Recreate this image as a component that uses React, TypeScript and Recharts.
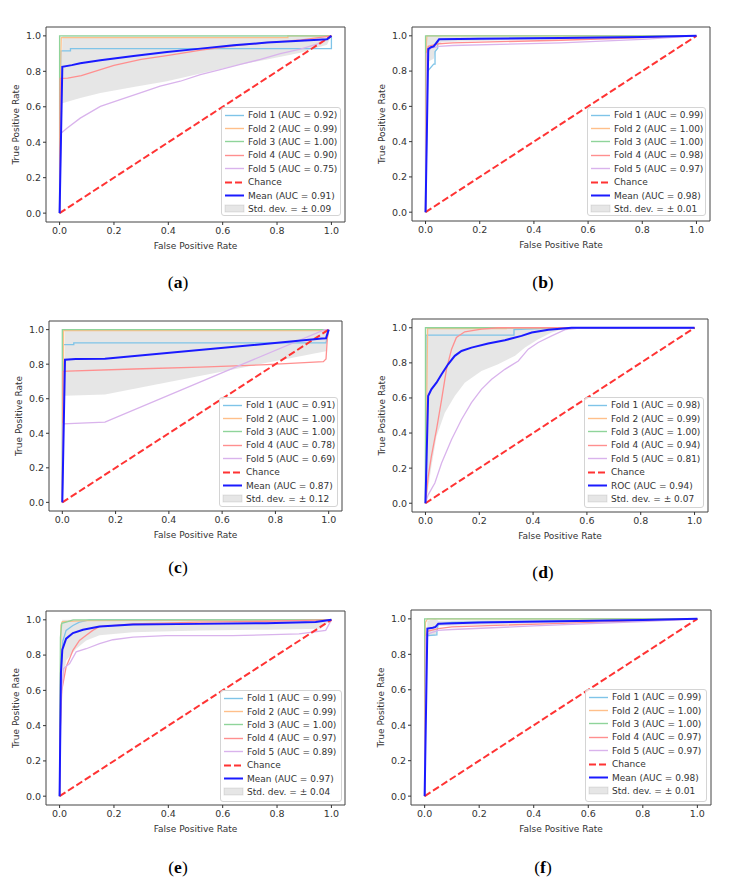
import React from 'react';
import { ComposedChart, Line, Area, XAxis, YAxis, ReferenceArea } from 'recharts';

type Pt = [number, number];
type BandPt = [number, number, number];

// tick values shared by every panel
const TICKS = [0, 0.2, 0.4, 0.6, 0.8, 1.0];
const CHANCE: Pt[] = [[0, 0], [1, 1]];

// (a)
const aFold1: Pt[] = [[0, 0], [0.005, 0.915], [0.04, 0.915], [0.04, 0.928], [1, 0.928], [1, 1]];
const aFold2: Pt[] = [[0, 0], [0.003, 0.76], [0.006, 0.99], [0.84, 0.99], [0.84, 1], [1, 1]];
const aFold3: Pt[] = [[0, 0], [0, 1], [1, 1]];
const aFold4: Pt[] = [[0, 0], [0.002, 0.76], [0.03, 0.762], [0.08, 0.776], [0.2, 0.833], [0.3, 0.867], [0.4, 0.89], [0.52, 0.92], [0.64, 0.943], [0.76, 0.962], [0.89, 0.977], [1, 1]];
const aFold5: Pt[] = [[0, 0], [0.005, 0.45], [0.027, 0.479], [0.076, 0.536], [0.15, 0.602], [0.223, 0.64], [0.297, 0.678], [0.37, 0.716], [0.444, 0.744], [0.518, 0.782], [0.591, 0.81], [0.665, 0.839], [0.739, 0.867], [0.812, 0.9], [0.886, 0.925], [0.95, 0.955], [1, 1]];
const aMean: Pt[] = [[0, 0], [0.01, 0.825], [0.045, 0.835], [0.076, 0.845], [0.15, 0.862], [0.272, 0.886], [0.395, 0.909], [0.518, 0.928], [0.64, 0.947], [0.763, 0.962], [0.886, 0.973], [0.984, 0.981], [1, 1]];
const aBand: BandPt[] = [[0, 0, 0], [0.01, 0.62, 1], [0.076, 0.65, 1], [0.15, 0.678, 1], [0.272, 0.712, 1], [0.395, 0.744, 1], [0.518, 0.788, 1], [0.64, 0.83, 1], [0.763, 0.867, 1], [0.886, 0.905, 1], [0.984, 0.95, 1], [1, 1, 1]];
const aAuc = ['0.92', '0.99', '1.00', '0.90', '0.75', '0.91', '0.09'];

// (b)
const bFold1: Pt[] = [[0, 0], [0.008, 0.8], [0.03, 0.84], [0.035, 0.84], [0.035, 0.91], [0.045, 0.93], [0.045, 0.97], [0.05, 0.98], [0.2, 0.985], [1, 1]];
const bFold2: Pt[] = [[0, 0], [0.003, 0.95], [0.005, 1], [1, 1]];
const bFold3: Pt[] = [[0, 0], [0, 1], [1, 1]];
const bFold4: Pt[] = [[0, 0], [0.003, 0.9], [0.01, 0.94], [0.05, 0.955], [0.1, 0.96], [0.5, 0.975], [1, 1]];
const bFold5: Pt[] = [[0, 0], [0.005, 0.9], [0.02, 0.93], [0.05, 0.94], [0.1, 0.945], [0.5, 0.96], [0.8, 0.98], [1, 1]];
const bMean: Pt[] = [[0, 0], [0.01, 0.925], [0.02, 0.935], [0.03, 0.94], [0.04, 0.96], [0.05, 0.98], [0.2, 0.983], [0.5, 0.988], [0.8, 0.994], [1, 1]];
const bBand: BandPt[] = [[0, 0, 0], [0.005, 0.85, 1], [0.03, 0.87, 1], [0.045, 0.95, 1], [0.06, 0.965, 0.995], [0.3, 0.975, 0.99], [0.6, 0.98, 0.995], [1, 1, 1]];
const bAuc = ['0.99', '1.00', '1.00', '0.98', '0.97', '0.98', '0.01'];

// (c)
const cFold1: Pt[] = [[0, 0], [0.003, 0.913], [0.043, 0.913], [0.043, 0.923], [0.99, 0.923], [1, 1]];
const cFold2: Pt[] = [[0, 0], [0.005, 0.995], [1, 0.995], [1, 1]];
const cFold3: Pt[] = [[0, 0], [0, 1], [1, 1]];
const cFold4: Pt[] = [[0, 0], [0.002, 0.758], [0.02, 0.76], [0.268, 0.772], [0.518, 0.783], [0.768, 0.797], [0.98, 0.815], [0.99, 0.83], [0.995, 0.95], [1, 1]];
const cFold5: Pt[] = [[0, 0], [0.003, 0.455], [0.16, 0.465], [0.985, 1], [1, 1]];
const cMean: Pt[] = [[0, 0], [0.01, 0.826], [0.05, 0.83], [0.16, 0.832], [0.975, 0.948], [0.99, 0.95], [1, 1]];
const cBand: BandPt[] = [[0, 0, 0], [0.01, 0.617, 1], [0.16, 0.625, 1], [0.975, 0.87, 1], [0.99, 0.875, 1], [1, 1, 1]];
const cAuc = ['0.91', '1.00', '1.00', '0.78', '0.69', '0.87', '0.12'];

// (d)
const dFold1: Pt[] = [[0, 0], [0.002, 0.958], [0.329, 0.958], [0.329, 0.99], [0.5, 1], [1, 1]];
const dFold2: Pt[] = [[0, 0], [0.008, 0.995], [0.3, 0.995], [0.3, 1], [1, 1]];
const dFold3: Pt[] = [[0, 0], [0, 1], [1, 1]];
const dFold4: Pt[] = [[0, 0], [0.01, 0.15], [0.022, 0.267], [0.041, 0.42], [0.06, 0.59], [0.078, 0.763], [0.097, 0.878], [0.115, 0.945], [0.146, 0.977], [0.208, 0.992], [0.27, 1], [1, 1]];
const dFold5: Pt[] = [[0, 0], [0.01, 0.048], [0.035, 0.115], [0.06, 0.229], [0.097, 0.363], [0.134, 0.477], [0.171, 0.573], [0.208, 0.649], [0.246, 0.706], [0.295, 0.763], [0.345, 0.811], [0.382, 0.878], [0.419, 0.916], [0.469, 0.954], [0.519, 0.989], [0.58, 1], [1, 1]];
const dMean: Pt[] = [[0, 0], [0.01, 0.611], [0.022, 0.649], [0.041, 0.687], [0.06, 0.735], [0.084, 0.792], [0.109, 0.84], [0.134, 0.868], [0.171, 0.887], [0.233, 0.91], [0.295, 0.929], [0.357, 0.954], [0.395, 0.973], [0.457, 0.989], [0.543, 1], [1, 1]];
const dBand: BandPt[] = [[0, 0, 0], [0.004, 0.02, 1], [0.022, 0.21, 1], [0.041, 0.38, 1], [0.072, 0.515, 1], [0.109, 0.611, 1], [0.146, 0.687, 1], [0.208, 0.754, 1], [0.27, 0.792, 1], [0.333, 0.84, 1], [0.37, 0.887, 1], [0.419, 0.935, 1], [0.469, 0.973, 1], [0.519, 0.996, 1], [0.543, 1, 1], [1, 1, 1]];
const dAuc = ['0.98', '0.99', '1.00', '0.94', '0.81', '0.94', '0.07'];

// (e)
const eFold1: Pt[] = [[0, 0], [0.005, 0.7], [0.012, 0.88], [0.024, 0.94], [0.049, 0.968], [0.073, 0.987], [0.11, 1], [1, 1]];
const eFold2: Pt[] = [[0, 0], [0.005, 0.97], [0.01, 0.99], [0.1, 0.995], [1, 1]];
const eFold3: Pt[] = [[0, 0], [0.003, 0.9], [0.008, 0.98], [0.03, 0.99], [0.05, 1], [1, 1]];
const eFold4: Pt[] = [[0, 0], [0.003, 0.4], [0.008, 0.6], [0.024, 0.733], [0.037, 0.78], [0.049, 0.827], [0.073, 0.883], [0.098, 0.912], [0.122, 0.94], [0.147, 0.962], [0.27, 0.977], [0.514, 0.987], [0.759, 0.992], [1, 1]];
const eFold5: Pt[] = [[0, 0], [0.005, 0.55], [0.015, 0.724], [0.037, 0.752], [0.061, 0.818], [0.098, 0.836], [0.147, 0.865], [0.196, 0.887], [0.27, 0.902], [0.392, 0.91], [0.636, 0.91], [0.881, 0.92], [0.979, 0.94], [1, 1]];
const eMean: Pt[] = [[0, 0], [0.005, 0.7], [0.01, 0.83], [0.024, 0.893], [0.049, 0.925], [0.086, 0.944], [0.147, 0.962], [0.27, 0.974], [0.514, 0.977], [0.759, 0.981], [0.942, 0.987], [1, 1]];
const eBand: BandPt[] = [[0, 0, 0], [0.005, 0.45, 0.95], [0.01, 0.62, 1], [0.024, 0.77, 1], [0.061, 0.836, 1], [0.098, 0.883, 1], [0.147, 0.912, 1], [0.27, 0.93, 1], [0.514, 0.94, 1], [0.759, 0.944, 1], [0.96, 0.949, 1], [1, 1, 1]];
const eAuc = ['0.99', '0.99', '1.00', '0.97', '0.89', '0.97', '0.04'];

// (f)
const fFold1: Pt[] = [[0, 0], [0.005, 0.9], [0.01, 0.905], [0.045, 0.91], [0.045, 0.93], [0.05, 0.97], [0.1, 0.98], [1, 1]];
const fFold2: Pt[] = [[0, 0], [0.003, 0.98], [0.01, 1], [1, 1]];
const fFold3: Pt[] = [[0, 0], [0, 1], [1, 1]];
const fFold4: Pt[] = [[0, 0], [0.003, 0.88], [0.01, 0.93], [0.05, 0.945], [0.1, 0.955], [0.5, 0.975], [1, 1]];
const fFold5: Pt[] = [[0, 0], [0.005, 0.9], [0.02, 0.92], [0.05, 0.935], [0.1, 0.94], [0.4, 0.96], [0.8, 0.985], [1, 1]];
const fMean: Pt[] = [[0, 0], [0.01, 0.945], [0.03, 0.95], [0.04, 0.955], [0.05, 0.973], [0.2, 0.98], [0.5, 0.987], [0.8, 0.994], [1, 1]];
const fBand: BandPt[] = [[0, 0, 0], [0.01, 0.9, 0.99], [0.04, 0.905, 1], [0.05, 0.96, 0.99], [0.3, 0.97, 0.995], [1, 1, 1]];
const fAuc = ['0.99', '1.00', '1.00', '0.97', '0.97', '0.98', '0.01'];

// light fold colours as they appear in the figure
const FOLD_COLORS = ['#7fc4e8', '#ffbf8a', '#8fd49a', '#ff8f8f', '#d9b3ec'];
const MEAN_COLOR = '#1a1aff';
const CHANCE_COLOR = '#ff3333';
const FONT = '"DejaVu Sans", sans-serif';
const TEXT = '#333';

interface Panel {
  tag: string;
  folds: Pt[][];
  mean: Pt[];
  band: BandPt[];
  auc: string[];
  meanName: string;
  box: [number, number, number, number]; // plot frame on the page
  legend: [number, number, number, number];
  caption: [number, number];
}

const PANELS: Panel[] = [
  { tag: 'a', folds: [aFold1, aFold2, aFold3, aFold4, aFold5], mean: aMean, band: aBand, auc: aAuc, meanName: 'Mean', box: [46, 27, 299, 195], legend: [221, 107, 120, 109], caption: [178, 282] },
  { tag: 'b', folds: [bFold1, bFold2, bFold3, bFold4, bFold5], mean: bMean, band: bBand, auc: bAuc, meanName: 'Mean', box: [412, 27, 298, 194], legend: [587, 107, 119, 109], caption: [543, 282] },
  { tag: 'c', folds: [cFold1, cFold2, cFold3, cFold4, cFold5], mean: cMean, band: cBand, auc: cAuc, meanName: 'Mean', box: [49, 321, 293, 190], legend: [219, 397, 119, 110], caption: [178, 567] },
  { tag: 'd', folds: [dFold1, dFold2, dFold3, dFold4, dFold5], mean: dMean, band: dBand, auc: dAuc, meanName: 'ROC', box: [412, 319, 296, 193], legend: [584, 397, 120, 111], caption: [543, 572] },
  { tag: 'e', folds: [eFold1, eFold2, eFold3, eFold4, eFold5], mean: eMean, band: eBand, auc: eAuc, meanName: 'Mean', box: [46, 611, 299, 194], legend: [220, 690, 122, 112], caption: [178, 867] },
  { tag: 'f', folds: [fFold1, fFold2, fFold3, fFold4, fFold5], mean: fMean, band: fBand, auc: fAuc, meanName: 'Mean', box: [411, 610, 300, 195], legend: [585, 689, 122, 113], caption: [543, 867] },
];

const toXY = (pts: Pt[]) => pts.map(([x, y]) => ({ x, y }));
const toBand = (pts: BandPt[]) => pts.map(([x, lo, hi]) => ({ x, band: [lo, hi] }));
const fmt = (v: number) => v.toFixed(1);

function Swatch({ kind, color }: { kind: string; color: string }) {
  return (
    <svg width={26} height={13} style={{ display: 'block', flex: 'none' }}>
      {kind === 'fold' && <line x1={3} x2={22} y1={6.5} y2={6.5} stroke={color} strokeWidth={1.4} />}
      {kind === 'chance' && <line x1={3} x2={22} y1={6.5} y2={6.5} stroke={CHANCE_COLOR} strokeWidth={2} strokeDasharray="7 3" />}
      {kind === 'mean' && <line x1={3} x2={22} y1={6.5} y2={6.5} stroke={MEAN_COLOR} strokeWidth={2} />}
      {kind === 'std' && <rect x={3} y={3} width={19} height={7} fill="#808080" fillOpacity={0.2} stroke="#808080" strokeOpacity={0.2} />}
    </svg>
  );
}

function LegendBox({ p }: { p: Panel }) {
  const [l, t, w, h] = p.legend;
  const rows = [
    ...p.auc.slice(0, 5).map((a, i) => ({ kind: 'fold', color: FOLD_COLORS[i], text: `Fold ${i + 1} (AUC = ${a})` })),
    { kind: 'chance', color: '', text: 'Chance' },
    { kind: 'mean', color: '', text: `${p.meanName} (AUC = ${p.auc[5]})` },
    { kind: 'std', color: '', text: `Std. dev. = \u00b1 ${p.auc[6]}` },
  ];
  return (
    <div style={{ position: 'absolute', left: l, top: t, width: w, height: h, boxSizing: 'border-box', border: '1px solid #d4d4d4', borderRadius: 3, background: 'rgba(255,255,255,0.8)', paddingTop: 0.5, fontFamily: FONT, fontSize: 9, color: TEXT }}>
      {rows.map((r) => (
        <div key={r.text} style={{ display: 'flex', alignItems: 'center', height: 13.4, whiteSpace: 'nowrap' }}>
          <Swatch kind={r.kind} color={r.color} />
          <span>{r.text}</span>
        </div>
      ))}
    </div>
  );
}

function RocPanel({ p }: { p: Panel }) {
  const [L, T, W, H] = p.box;
  const padL = 46, padT = 8, padR = 8, padB = 34;
  return (
    <>
      <div style={{ position: 'absolute', left: L - padL, top: T - padT }}>
        <ComposedChart width={W + padL + padR} height={H + padT + padB} margin={{ top: padT, right: padR, left: padL - 40, bottom: 0 }}>
          <XAxis dataKey="x" type="number" domain={[-0.05, 1.05]} allowDataOverflow ticks={TICKS} tickFormatter={fmt}
            height={padB} tickSize={3} tickMargin={2} axisLine={false} tickLine={{ stroke: TEXT }}
            tick={{ fontSize: 9.5, fill: TEXT, fontFamily: FONT }}
            label={{ value: 'False Positive Rate', position: 'insideBottom', offset: 7, fontSize: 9, fill: TEXT, fontFamily: FONT }} />
          <YAxis type="number" domain={[-0.05, 1.05]} allowDataOverflow ticks={TICKS} tickFormatter={fmt}
            width={40} tickSize={3} tickMargin={2} axisLine={false} tickLine={{ stroke: TEXT }}
            tick={{ fontSize: 9.5, fill: TEXT, fontFamily: FONT }}
            label={{ value: 'True Positive Rate', angle: -90, position: 'insideLeft', offset: 10, fontSize: 9, fill: TEXT, fontFamily: FONT, style: { textAnchor: 'middle' } }} />
          {p.folds.map((f, i) => (
            <Line key={i} data={toXY(f)} dataKey="y" type="linear" stroke={FOLD_COLORS[i]} strokeWidth={1.3}
              dot={false} activeDot={false} isAnimationActive={false} />
          ))}
          <Line data={toXY(CHANCE)} dataKey="y" type="linear" stroke={CHANCE_COLOR} strokeWidth={2} strokeDasharray="7 3"
            dot={false} activeDot={false} isAnimationActive={false} />
          <Line data={toXY(p.mean)} dataKey="y" type="linear" stroke={MEAN_COLOR} strokeWidth={2}
            dot={false} activeDot={false} isAnimationActive={false} />
          <Area data={toBand(p.band)} dataKey="band" type="linear" stroke="none" fill="#808080" fillOpacity={0.2}
            dot={false} activeDot={false} isAnimationActive={false} />
          <ReferenceArea x1={-0.05} x2={1.05} y1={-0.05} y2={1.05} fill="none" stroke="#444" strokeWidth={1} />
        </ComposedChart>
      </div>
      <LegendBox p={p} />
      <div style={{ position: 'absolute', left: p.caption[0], top: p.caption[1], transform: 'translate(-50%, -50%)', fontFamily: '"Liberation Serif", serif', fontSize: 17.5, color: '#000' }}>
        (<b>{p.tag}</b>)
      </div>
    </>
  );
}

export default function App() {
  return (
    <div style={{ position: 'absolute', left: 0, top: 0, width: 731, height: 884, background: '#fff' }}>
      {PANELS.map((p) => <RocPanel key={p.tag} p={p} />)}
    </div>
  );
}
